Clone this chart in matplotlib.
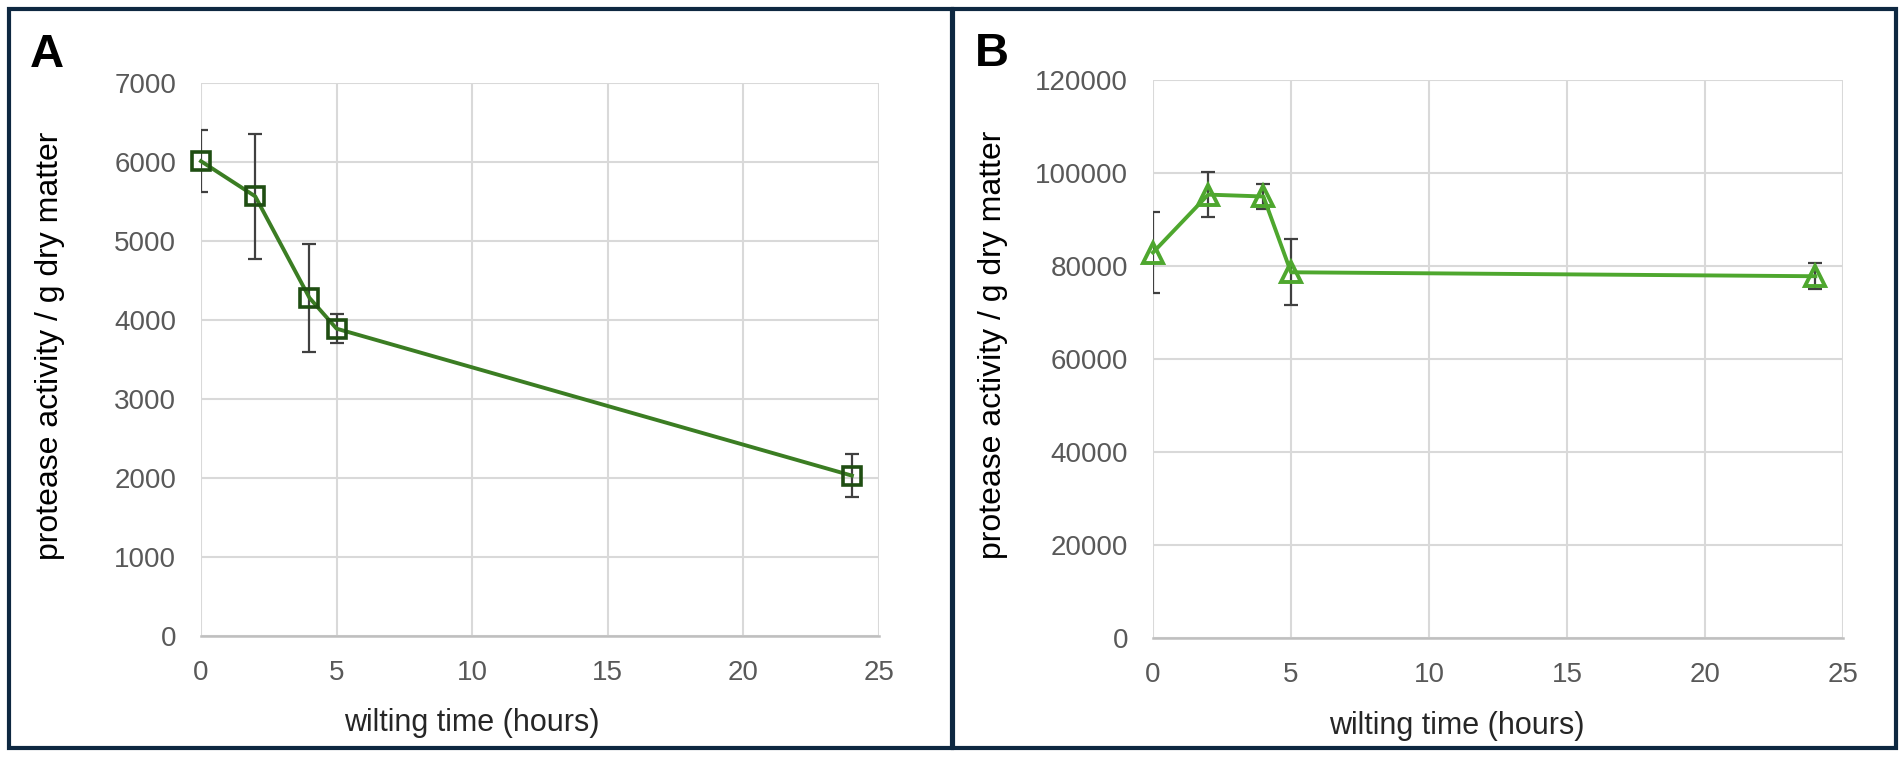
import matplotlib
matplotlib.use("Agg")
import matplotlib.pyplot as plt
from matplotlib.patches import Rectangle

# ---- data ----
hours = [0, 2, 4, 5, 24]
activity_a = [6010, 5565, 4280, 3890, 2030]
err_a = [390, 795, 680, 185, 270]
activity_b = [82900, 95350, 94950, 78650, 77800]
err_b = [8700, 4900, 2600, 7050, 2750]

x_ticks = [0, 5, 10, 15, 20, 25]
y_ticks_a = [0, 1000, 2000, 3000, 4000, 5000, 6000, 7000]
y_ticks_b = [0, 20000, 40000, 60000, 80000, 100000, 120000]

xlabel = "wilting time (hours)"
ylabel = "protease activity / g dry matter"
panel_labels = ["A", "B"]

plt.rcParams['font.family'] = ['Liberation Sans', 'DejaVu Sans']

W, H = 1903, 757
fig = plt.figure(figsize=(W / 100, H / 100), dpi=100)

def fx(px):
    return px / W

def fy(py):
    return 1 - py / H

grid_c = '#D9D9D9'
tick_c = '#595959'

def setup(ax, yticks, xlab_frac, ylab_x):
    ax.set_xlim(0, 25)
    ax.set_ylim(yticks[0], yticks[-1])
    ax.set_xticks(x_ticks)
    ax.set_yticks(yticks)
    ax.set_xticklabels([str(t) for t in x_ticks])
    ax.set_yticklabels([str(t) for t in yticks])
    for s in ax.spines.values():
        s.set_visible(False)
    ax.grid(True, color=grid_c, lw=1.5, zorder=0)
    ax.set_axisbelow(True)
    ax.axhline(yticks[0], color='#BFBFBF', lw=1.8, zorder=1, clip_on=False)
    ax.tick_params(axis='both', length=0, labelsize=20, colors=tick_c)
    ax.tick_params(axis='x', pad=17)
    ax.tick_params(axis='y', pad=18)
    ax.set_xlabel(xlabel, fontsize=22, color='#262626')
    ax.xaxis.set_label_coords(xlab_frac, -0.13)
    ax.set_ylabel(ylabel, fontsize=23, color='black')
    ax.yaxis.set_label_coords(ylab_x, 0.525)

# Panel A
axA = fig.add_axes([fx(201), fy(636), fx(879 - 201), (636 - 83) / H])
setup(axA, y_ticks_a, 0.40, -0.20)
axA.errorbar(hours, activity_a, yerr=err_a, fmt='none', ecolor='#404040',
             elinewidth=1.6, capsize=4.8, capthick=1.6, zorder=3)
axA.plot(hours, activity_a, color='#3B7D23', lw=2.8, marker='s', markersize=13.5,
         markerfacecolor='none', markeredgecolor='#1F4E12', markeredgewidth=2.6,
         zorder=4, clip_on=False)

# Panel B
axB = fig.add_axes([fx(1153), fy(638), fx(1843 - 1153), (638 - 80) / H])
setup(axB, y_ticks_b, 0.44, -0.21)
axB.errorbar(hours, activity_b, yerr=err_b, fmt='none', ecolor='#404040',
             elinewidth=1.6, capsize=4.8, capthick=1.6, zorder=3)
axB.plot(hours, activity_b, color='#4EA72E', lw=2.8, marker='^', markersize=14,
         markerfacecolor='none', markeredgecolor='#4EA72E', markeredgewidth=2.8,
         zorder=4, clip_on=False)

# panel letters
fig.text(fx(30), fy(67), panel_labels[0], fontsize=34, fontweight='bold', color='black',
         ha='left', va='baseline')
fig.text(fx(975), fy(66), panel_labels[1], fontsize=34, fontweight='bold', color='black',
         ha='left', va='baseline')

# borders
border_c = '#0E2841'
for x0, x1 in [(9, 952), (953, 1896)]:
    fig.add_artist(Rectangle((fx(x0), fy(748)), fx(x1 - x0), (748 - 9) / H,
                             transform=fig.transFigure, fill=False,
                             edgecolor=border_c, lw=3))

fig.savefig('out.png', dpi=100, facecolor='white')
